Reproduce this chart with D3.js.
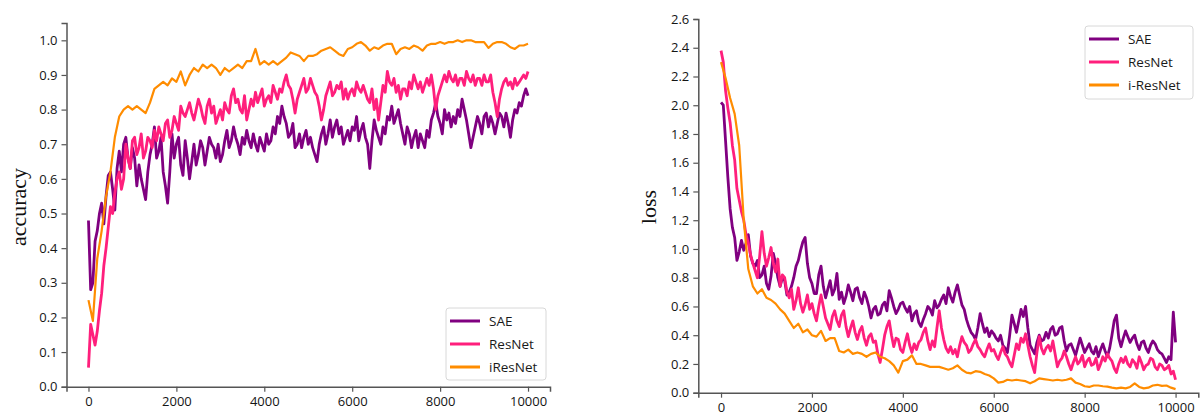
<!DOCTYPE html>
<html>
<head>
<meta charset="utf-8">
<script src="https://cdn.jsdelivr.net/npm/d3@7"></script>
<style>
  html, body { margin: 0; padding: 0; background: #fff; }
  svg { display: block; }
  .tick text { font-family: "Open Sans", "Noto Sans", sans-serif; font-size: 13px; fill: #151515; }
</style>
</head>
<body>
<svg id="chart" width="1203" height="417"></svg>
<script>
// Iteration grids: noisy runs are logged every 50 steps, iResNet every 100
const steps50 = d3.range(0, 10001, 50);
const steps100 = d3.range(0, 10001, 100);

const seriesNamesAcc = ["SAE", "ResNet", "iResNet"];
const seriesNamesLoss = ["SAE", "ResNet", "i-ResNet"];
const colors = ["#800080", "#ff1f7c", "#ff8c00"];
const widths = [2.8, 2.8, 2.2];

// Accuracy curves
const accSAE = [
  0.48, 0.28, 0.30, 0.42, 0.45, 0.50, 0.53, 0.47, 0.55, 0.61,
  0.62, 0.57, 0.51, 0.63, 0.68, 0.62, 0.70, 0.72, 0.66, 0.63,
  0.69, 0.66, 0.58, 0.64, 0.60, 0.57, 0.54, 0.62, 0.67, 0.70,
  0.75, 0.66, 0.68, 0.72, 0.62, 0.58, 0.53, 0.62, 0.73, 0.66,
  0.70, 0.72, 0.64, 0.61, 0.71, 0.66, 0.60, 0.65, 0.70, 0.64,
  0.67, 0.71, 0.69, 0.64, 0.68, 0.72, 0.70, 0.69, 0.66, 0.70,
  0.65, 0.67, 0.71, 0.74, 0.69, 0.71, 0.75, 0.72, 0.70, 0.67,
  0.72, 0.70, 0.74, 0.71, 0.69, 0.73, 0.70, 0.68, 0.72, 0.70,
  0.68, 0.73, 0.70, 0.71, 0.75, 0.73, 0.78, 0.76, 0.81, 0.78,
  0.76, 0.72, 0.73, 0.76, 0.69, 0.70, 0.73, 0.69, 0.72, 0.74,
  0.70, 0.72, 0.69, 0.67, 0.65, 0.70, 0.73, 0.75, 0.70, 0.73,
  0.77, 0.72, 0.75, 0.77, 0.73, 0.75, 0.70, 0.72, 0.74, 0.71,
  0.75, 0.74, 0.78, 0.71, 0.74, 0.76, 0.72, 0.70, 0.63, 0.71,
  0.77, 0.74, 0.72, 0.70, 0.75, 0.73, 0.78, 0.77, 0.81, 0.76,
  0.78, 0.80, 0.76, 0.73, 0.70, 0.75, 0.73, 0.69, 0.72, 0.74,
  0.69, 0.73, 0.71, 0.69, 0.74, 0.72, 0.77, 0.79, 0.82, 0.78,
  0.76, 0.73, 0.80, 0.77, 0.79, 0.75, 0.78, 0.76, 0.80, 0.78,
  0.83, 0.80, 0.77, 0.73, 0.69, 0.72, 0.75, 0.78, 0.76, 0.73,
  0.78, 0.79, 0.75, 0.78, 0.76, 0.73, 0.76, 0.79, 0.78, 0.75,
  0.79, 0.76, 0.72, 0.77, 0.80, 0.79, 0.82, 0.81, 0.84, 0.86,
  0.84
];
const accResNet = [
  0.055, 0.18, 0.15, 0.12, 0.16, 0.22, 0.27, 0.35, 0.40, 0.46,
  0.52, 0.50, 0.56, 0.60, 0.62, 0.57, 0.60, 0.70, 0.66, 0.63,
  0.71, 0.72, 0.67, 0.69, 0.73, 0.66, 0.68, 0.72, 0.71, 0.69,
  0.74, 0.71, 0.75, 0.73, 0.71, 0.76, 0.77, 0.72, 0.74, 0.78,
  0.76, 0.74, 0.81, 0.79, 0.78, 0.80, 0.82, 0.79, 0.77, 0.80,
  0.83, 0.81, 0.78, 0.76, 0.81, 0.83, 0.79, 0.81, 0.76, 0.78,
  0.80, 0.77, 0.82, 0.80, 0.79, 0.84, 0.86, 0.82, 0.83, 0.80,
  0.79, 0.84, 0.77, 0.80, 0.83, 0.81, 0.85, 0.82, 0.84, 0.86,
  0.81, 0.83, 0.84, 0.82, 0.87, 0.85, 0.83, 0.86, 0.85, 0.88,
  0.90, 0.87, 0.86, 0.83, 0.79, 0.83, 0.85, 0.87, 0.89, 0.85,
  0.86, 0.89, 0.87, 0.85, 0.84, 0.81, 0.77, 0.80, 0.84, 0.86,
  0.88, 0.84, 0.85, 0.87, 0.86, 0.88, 0.83, 0.86, 0.83, 0.85,
  0.86, 0.84, 0.88, 0.86, 0.85, 0.87, 0.85, 0.83, 0.82, 0.86,
  0.80, 0.83, 0.77, 0.82, 0.87, 0.85, 0.91, 0.88, 0.87, 0.89,
  0.85, 0.87, 0.83, 0.86, 0.86, 0.84, 0.88, 0.86, 0.90, 0.88,
  0.86, 0.88, 0.85, 0.87, 0.89, 0.87, 0.90, 0.86, 0.80, 0.84,
  0.86, 0.88, 0.90, 0.88, 0.91, 0.89, 0.88, 0.90, 0.87, 0.89,
  0.89, 0.87, 0.91, 0.89, 0.88, 0.90, 0.87, 0.89, 0.89, 0.87,
  0.90, 0.88, 0.88, 0.90, 0.85, 0.82, 0.78, 0.83, 0.86, 0.88,
  0.89, 0.87, 0.88, 0.86, 0.89, 0.87, 0.88, 0.89, 0.90, 0.89,
  0.91
];
const accIResNet = [
  0.25, 0.19, 0.37, 0.45, 0.55, 0.62, 0.72, 0.78, 0.80, 0.81,
  0.80, 0.81, 0.80, 0.79, 0.82, 0.86, 0.87, 0.88, 0.87, 0.89,
  0.88, 0.91, 0.87, 0.90, 0.92, 0.91, 0.93, 0.92, 0.93, 0.92,
  0.90, 0.92, 0.91, 0.92, 0.93, 0.92, 0.94, 0.94, 0.975, 0.93,
  0.94, 0.93, 0.94, 0.93, 0.94, 0.95, 0.965, 0.96, 0.955, 0.94,
  0.955, 0.955, 0.96, 0.97, 0.975, 0.98, 0.97, 0.96, 0.955, 0.975,
  0.98, 0.99, 0.995, 0.985, 0.97, 0.98, 0.975, 0.985, 0.99, 0.99,
  0.96, 0.975, 0.98, 0.975, 0.985, 0.98, 0.97, 0.985, 0.99, 0.99,
  0.995, 0.99, 0.995, 0.995, 1.0, 0.995, 1.0, 1.0, 0.995, 0.995,
  0.995, 0.978, 0.99, 0.995, 0.995, 0.99, 0.98, 0.975, 0.985, 0.985,
  0.99
];

// Loss curves
const lossSAE = [
  2.02, 2.00, 1.75, 1.50, 1.28, 1.15, 1.08, 0.92, 0.98, 1.06,
  0.99, 1.04, 1.10, 0.95, 0.90, 0.88, 0.92, 0.80, 0.82, 0.88,
  0.76, 0.72, 0.81, 0.97, 0.90, 0.80, 0.74, 0.80, 0.78, 0.68,
  0.70, 0.74, 0.80, 0.88, 0.92, 0.99, 1.05, 1.08, 0.90, 0.80,
  0.76, 0.69, 0.69, 0.82, 0.88, 0.74, 0.66, 0.72, 0.78, 0.68,
  0.72, 0.83, 0.65, 0.70, 0.62, 0.67, 0.75, 0.70, 0.64, 0.72,
  0.73, 0.66, 0.62, 0.70, 0.66, 0.60, 0.52, 0.58, 0.60, 0.54,
  0.55, 0.61, 0.63, 0.57, 0.71, 0.66, 0.60, 0.55, 0.58, 0.62,
  0.63, 0.59, 0.56, 0.60, 0.50, 0.55, 0.57, 0.49, 0.46, 0.51,
  0.55, 0.60, 0.58, 0.54, 0.64, 0.59, 0.61, 0.65, 0.68, 0.62,
  0.73, 0.67, 0.63, 0.70, 0.75, 0.68, 0.61, 0.58, 0.51, 0.46,
  0.42, 0.40, 0.37, 0.45, 0.55, 0.48, 0.42, 0.45, 0.39, 0.43,
  0.41, 0.38, 0.36, 0.40, 0.33, 0.31, 0.28, 0.40, 0.54, 0.48,
  0.42, 0.50, 0.58, 0.53, 0.60, 0.45, 0.33, 0.30, 0.27, 0.35,
  0.40, 0.36, 0.37, 0.42, 0.38, 0.44, 0.46, 0.40, 0.41, 0.45,
  0.46, 0.36, 0.29, 0.33, 0.34, 0.30, 0.26, 0.32, 0.38, 0.33,
  0.28, 0.31, 0.34, 0.29, 0.27, 0.32, 0.25, 0.30, 0.34, 0.29,
  0.25, 0.31, 0.40, 0.50, 0.54, 0.38, 0.32, 0.38, 0.43, 0.39,
  0.35, 0.38, 0.40, 0.34, 0.30, 0.35, 0.36, 0.31, 0.28, 0.33,
  0.36, 0.34, 0.30, 0.28, 0.27, 0.24, 0.21, 0.25, 0.23, 0.56,
  0.35
];
const lossResNet = [
  2.38, 2.30, 2.10, 1.98, 1.88, 1.72, 1.62, 1.42, 1.34, 1.26,
  1.20, 1.10, 1.04, 0.96, 0.90, 0.85, 0.80, 0.95, 1.12, 0.97,
  0.88, 0.94, 1.01, 0.90, 0.84, 0.93, 0.74, 0.82, 0.80, 0.70,
  0.66, 0.72, 0.58, 0.64, 0.73, 0.62, 0.56, 0.61, 0.68, 0.58,
  0.62, 0.55, 0.50, 0.60, 0.68, 0.60, 0.52, 0.48, 0.44, 0.53,
  0.57, 0.50, 0.46, 0.54, 0.57, 0.46, 0.39, 0.45, 0.50, 0.42,
  0.37, 0.43, 0.46, 0.38, 0.33, 0.39, 0.41, 0.35, 0.36, 0.27,
  0.21, 0.30, 0.40, 0.46, 0.50, 0.40, 0.32, 0.38, 0.37, 0.30,
  0.28, 0.35, 0.41, 0.33, 0.28, 0.34, 0.30, 0.35, 0.37, 0.42,
  0.45, 0.36, 0.30, 0.36, 0.32, 0.45, 0.57, 0.45, 0.37, 0.31,
  0.28, 0.32, 0.27, 0.30, 0.25, 0.33, 0.39, 0.35, 0.33, 0.28,
  0.30, 0.34, 0.37, 0.32, 0.30, 0.27, 0.25, 0.30, 0.34, 0.29,
  0.30, 0.26, 0.23, 0.28, 0.32, 0.27, 0.25, 0.21, 0.18, 0.26,
  0.34, 0.30, 0.38, 0.35, 0.41, 0.33, 0.25, 0.19, 0.14, 0.28,
  0.39, 0.31, 0.27, 0.31, 0.33, 0.29, 0.36, 0.27, 0.18, 0.22,
  0.24, 0.29, 0.25, 0.20, 0.16, 0.21, 0.25, 0.20, 0.22, 0.26,
  0.18, 0.22, 0.24, 0.19, 0.20, 0.24, 0.16, 0.20, 0.25, 0.22,
  0.27, 0.24, 0.22, 0.17, 0.14, 0.20, 0.24, 0.21, 0.25, 0.20,
  0.18, 0.23, 0.21, 0.17, 0.25, 0.21, 0.16, 0.19, 0.20, 0.24,
  0.23, 0.18, 0.16, 0.20, 0.19, 0.16, 0.17, 0.19, 0.13, 0.15,
  0.09
];
const lossIResNet = [
  2.30, 2.19, 2.05, 1.94, 1.72, 1.20, 0.86, 0.74, 0.69, 0.72,
  0.66, 0.645, 0.62, 0.58, 0.55, 0.50, 0.45, 0.48, 0.42, 0.44,
  0.40, 0.39, 0.43, 0.36, 0.38, 0.38, 0.29, 0.28, 0.30, 0.27,
  0.28, 0.27, 0.25, 0.27, 0.28, 0.25, 0.24, 0.22, 0.19, 0.14,
  0.22, 0.23, 0.26, 0.20, 0.20, 0.19, 0.18, 0.18, 0.18, 0.17,
  0.16, 0.17, 0.19, 0.16, 0.14, 0.135, 0.15, 0.145, 0.13, 0.12,
  0.10, 0.07, 0.075, 0.09, 0.085, 0.09, 0.085, 0.08, 0.065, 0.08,
  0.10, 0.095, 0.09, 0.085, 0.09, 0.085, 0.09, 0.10, 0.07, 0.06,
  0.045, 0.04, 0.05, 0.05, 0.045, 0.042, 0.035, 0.03, 0.035, 0.03,
  0.04, 0.065, 0.04, 0.03, 0.035, 0.05, 0.055, 0.048, 0.05, 0.035,
  0.025
];

const xTicks = [0, 2000, 4000, 6000, 8000, 10000];
const accTicks = [0.0, 0.1, 0.2, 0.3, 0.4, 0.5, 0.6, 0.7, 0.8, 0.9, 1.0];
const lossTicks = [0.0, 0.2, 0.4, 0.6, 0.8, 1.0, 1.2, 1.4, 1.6, 1.8, 2.0, 2.2, 2.4, 2.6];

const svg = d3.select("#chart");

function panel(cfg) {
  const x = d3.scaleLinear().domain([-500, 10500]).range([cfg.left, cfg.right]);
  const y = d3.scaleLinear().domain(cfg.yDomain).range([cfg.bottom, cfg.top]);
  const g = svg.append("g");

  cfg.series.forEach((s, k) => {
    const line = d3.line().x((d, i) => x(s.steps[i])).y(d => y(d));
    g.append("path")
      .datum(s.values)
      .attr("fill", "none")
      .attr("stroke", colors[k])
      .attr("stroke-width", widths[k])
      .attr("stroke-linejoin", "round")
      .attr("d", line);
  });

  const xAxis = g.append("g")
    .attr("transform", `translate(0,${cfg.bottom})`)
    .call(d3.axisBottom(x).tickValues(xTicks).tickFormat(d3.format("d")).tickSizeOuter(0).tickSize(5).tickPadding(5));
  const yAxis = g.append("g")
    .attr("transform", `translate(${cfg.left},0)`)
    .call(d3.axisLeft(y).tickValues(cfg.yTicks).tickFormat(d3.format(".1f")).tickSizeOuter(0).tickSize(5).tickPadding(4));
  [xAxis, yAxis].forEach(a => {
    a.select(".domain").attr("stroke", "#555").attr("stroke-width", 1.5);
    a.selectAll(".tick line").attr("stroke", "#555").attr("stroke-width", 1.2);
  });

  g.append("text")
    .attr("transform", `translate(${cfg.labelX},${cfg.labelY}) rotate(-90)`)
    .attr("text-anchor", "middle")
    .attr("dominant-baseline", "central")
    .style("font-family", "'Liberation Serif', 'Times New Roman', serif")
    .style("font-size", "22px")
    .style("fill", "#111")
    .text(cfg.yLabel);

  // Legend
  const lg = g.append("g");
  lg.append("rect")
    .attr("x", cfg.legend.x).attr("y", cfg.legend.y)
    .attr("width", cfg.legend.w).attr("height", cfg.legend.h)
    .attr("rx", 3)
    .attr("fill", "#fff").attr("stroke", "#d8d8d8").attr("stroke-width", 1);
  cfg.names.forEach((n, k) => {
    const yy = cfg.legend.y + 13 + k * 23;
    lg.append("line")
      .attr("x1", cfg.legend.x + 4).attr("x2", cfg.legend.x + 34)
      .attr("y1", yy).attr("y2", yy)
      .attr("stroke", colors[k]).attr("stroke-width", 3);
    lg.append("text")
      .attr("x", cfg.legend.x + 43).attr("y", yy)
      .attr("dominant-baseline", "central")
      .style("font-family", "'Open Sans', 'Noto Sans', sans-serif")
      .style("font-size", "13.5px")
      .style("fill", "#1a1a1a")
      .text(n);
  });
}

panel({
  left: 66.5, right: 550, top: 23, bottom: 386.7,
  yDomain: [0, 1.05], yTicks: accTicks,
  series: [
    { steps: steps50, values: accSAE },
    { steps: steps50, values: accResNet },
    { steps: steps100, values: accIResNet }
  ],
  names: seriesNamesAcc,
  yLabel: "accuracy", labelX: 18, labelY: 207,
  legend: { x: 446, y: 308, w: 100, h: 72 }
});

panel({
  left: 698.3, right: 1198.3, top: 19, bottom: 392.7,
  yDomain: [0, 2.6], yTicks: lossTicks,
  series: [
    { steps: steps50, values: lossSAE },
    { steps: steps50, values: lossResNet },
    { steps: steps100, values: lossIResNet }
  ],
  names: seriesNamesLoss,
  yLabel: "loss", labelX: 648, labelY: 207,
  legend: { x: 1085, y: 26, w: 108, h: 73 }
});
</script>
</body>
</html>
